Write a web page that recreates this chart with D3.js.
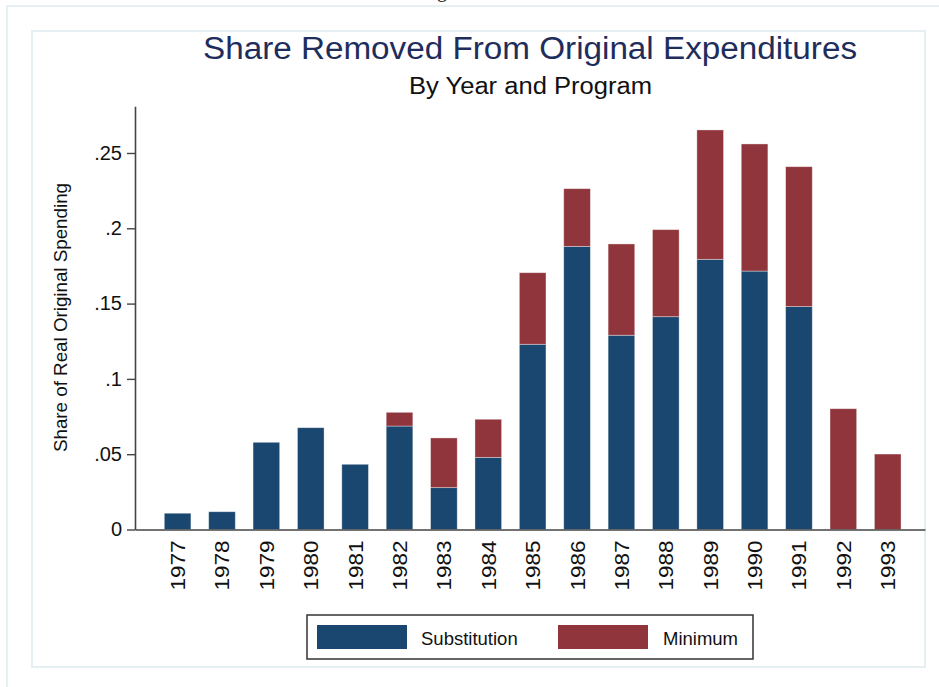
<!DOCTYPE html>
<html>
<head>
<meta charset="utf-8">
<script src="https://cdn.jsdelivr.net/npm/d3@7"></script>
<style>
  body { margin: 0; background: #fff; }
  svg { display: block; font-family: "Liberation Sans", Arial, Helvetica, sans-serif; }
</style>
</head>
<body>
<div id="chart"></div>
<script>
const width = 939,
  height = 687;

// data
const years = ["1977", "1978", "1979", "1980", "1981", "1982", "1983", "1984", "1985",
  "1986", "1987", "1988", "1989", "1990", "1991", "1992", "1993"];
const substitution = [0.0108, 0.0118, 0.0579, 0.0676, 0.0433, 0.0687, 0.0278, 0.0479, 0.123,
  0.188, 0.129, 0.1413, 0.1794, 0.1716, 0.148, 0, 0];
const minimum = [0, 0, 0, 0, 0, 0.0091, 0.033, 0.0253, 0.0475,
  0.0383, 0.0606, 0.0578, 0.0859, 0.0844, 0.0929, 0.0802, 0.0501];
const seriesNames = ["Substitution", "Minimum"];
const yTicks = [0, 0.05, 0.1, 0.15, 0.2, 0.25];
const yTickLabels = ["0", ".05", ".1", ".15", ".2", ".25"];

const colors = ["#1a476f", "#90353b"];

const rows = years.map((yr, i) => ({
  year: yr,
  Substitution: substitution[i],
  Minimum: minimum[i],
}));

const svg = d3
  .select("#chart")
  .append("svg")
  .attr("width", width)
  .attr("height", height);

// outer and inner panel frames
svg.append("rect")
  .attr("x", 7).attr("y", 6)
  .attr("width", 960).attr("height", 700)
  .attr("fill", "none")
  .attr("stroke", "#e6eff1")
  .attr("stroke-width", 2);

svg.append("rect")
  .attr("x", 32).attr("y", 31)
  .attr("width", 893).attr("height", 636)
  .attr("fill", "#fff")
  .attr("stroke", "#e6eff1")
  .attr("stroke-width", 2);

// cut-off caption fragment at the very top (only its descender shows)
svg.append("text")
  .attr("x", 442).attr("y", -3)
  .attr("text-anchor", "middle")
  .attr("font-family", "Liberation Serif, serif")
  .attr("font-size", 20)
  .attr("fill", "#222")
  .text("g");

// scales
const x = d3.scaleBand().domain(years).range([135, 925])
  .paddingInner(0.4).paddingOuter(0.6).align(0.55);
const y = d3.scaleLinear().domain([0, 0.281]).range([529.5, 106.3]);

const stack = d3.stack().keys(seriesNames);
const stacked = stack(rows);

// bars
svg.append("g")
  .selectAll("g")
  .data(stacked)
  .enter()
  .append("g")
  .attr("fill", (d, i) => colors[i])
  .selectAll("rect")
  .data((d) => d.filter((p) => p[1] - p[0] > 0))
  .enter()
  .append("rect")
  .attr("x", (d) => x(d.data.year))
  .attr("width", x.bandwidth())
  .attr("y", (d) => y(d[1]))
  .attr("height", (d) => y(d[0]) - y(d[1]))
  .attr("stroke", "rgba(255,255,255,0.45)")
  .attr("stroke-width", 0.8);

// y axis
const yAxis = svg.append("g")
  .attr("transform", "translate(135,0)")
  .call(
    d3.axisLeft(y)
      .tickValues(yTicks)
      .tickFormat((d, i) => yTickLabels[i])
      .tickSize(8)
      .tickPadding(5)
      .tickSizeOuter(0)
  );
yAxis.select(".domain").attr("stroke", "#444").attr("stroke-width", 1.6);
yAxis.selectAll(".tick line").attr("stroke", "#444").attr("stroke-width", 1.4);
yAxis.selectAll(".tick text")
  .attr("font-size", 20)
  .attr("font-family", "Liberation Sans, Arial, sans-serif")
  .attr("fill", "#111");

// x axis
const xAxis = svg.append("g")
  .attr("transform", "translate(0,529.5)")
  .call(d3.axisBottom(x).tickSize(0).tickSizeOuter(0).tickPadding(0));
xAxis.select(".domain").attr("stroke", "#444").attr("stroke-width", 1.6);
xAxis.selectAll(".tick text")
  .attr("font-size", 20.5)
  .attr("font-family", "Liberation Sans, Arial, sans-serif")
  .attr("fill", "#111")
  .attr("text-anchor", "end")
  .attr("dy", null)
  .attr("textLength", 50)
  .attr("lengthAdjust", "spacingAndGlyphs")
  .attr("transform", "translate(7.5,11) rotate(-90)")
  .attr("y", 0)
  .attr("x", 0);

// titles
svg.append("text")
  .attr("x", 530).attr("y", 59)
  .attr("text-anchor", "middle")
  .attr("font-size", 31)
  .attr("fill", "#1e2d5c")
  .attr("textLength", 654)
  .attr("lengthAdjust", "spacingAndGlyphs")
  .text("Share Removed From Original Expenditures");

svg.append("text")
  .attr("x", 530.5).attr("y", 94)
  .attr("text-anchor", "middle")
  .attr("font-size", 23.5)
  .attr("fill", "#111")
  .attr("textLength", 243)
  .attr("lengthAdjust", "spacingAndGlyphs")
  .text("By Year and Program");

// y axis title
svg.append("text")
  .attr("transform", "translate(67,317.5) rotate(-90)")
  .attr("text-anchor", "middle")
  .attr("font-size", 19)
  .attr("fill", "#111")
  .attr("textLength", 269)
  .attr("lengthAdjust", "spacingAndGlyphs")
  .text("Share of Real Original Spending");

// legend
const legend = svg.append("g");
legend.append("rect")
  .attr("x", 307).attr("y", 615)
  .attr("width", 446).attr("height", 44)
  .attr("fill", "#fff")
  .attr("stroke", "#333")
  .attr("stroke-width", 1.5);

const legendX = [317, 558];
const legendTextX = [421, 663];
const item = legend.selectAll(".item")
  .data(seriesNames)
  .enter()
  .append("g")
  .attr("class", "item");
item.append("rect")
  .attr("x", (d, i) => legendX[i])
  .attr("y", 625)
  .attr("width", 90)
  .attr("height", 24)
  .attr("fill", (d, i) => colors[i]);
item.append("text")
  .attr("x", (d, i) => legendTextX[i])
  .attr("y", 645)
  .attr("font-size", 18.5)
  .attr("fill", "#111")
  .text((d) => d);
</script>
</body>
</html>
